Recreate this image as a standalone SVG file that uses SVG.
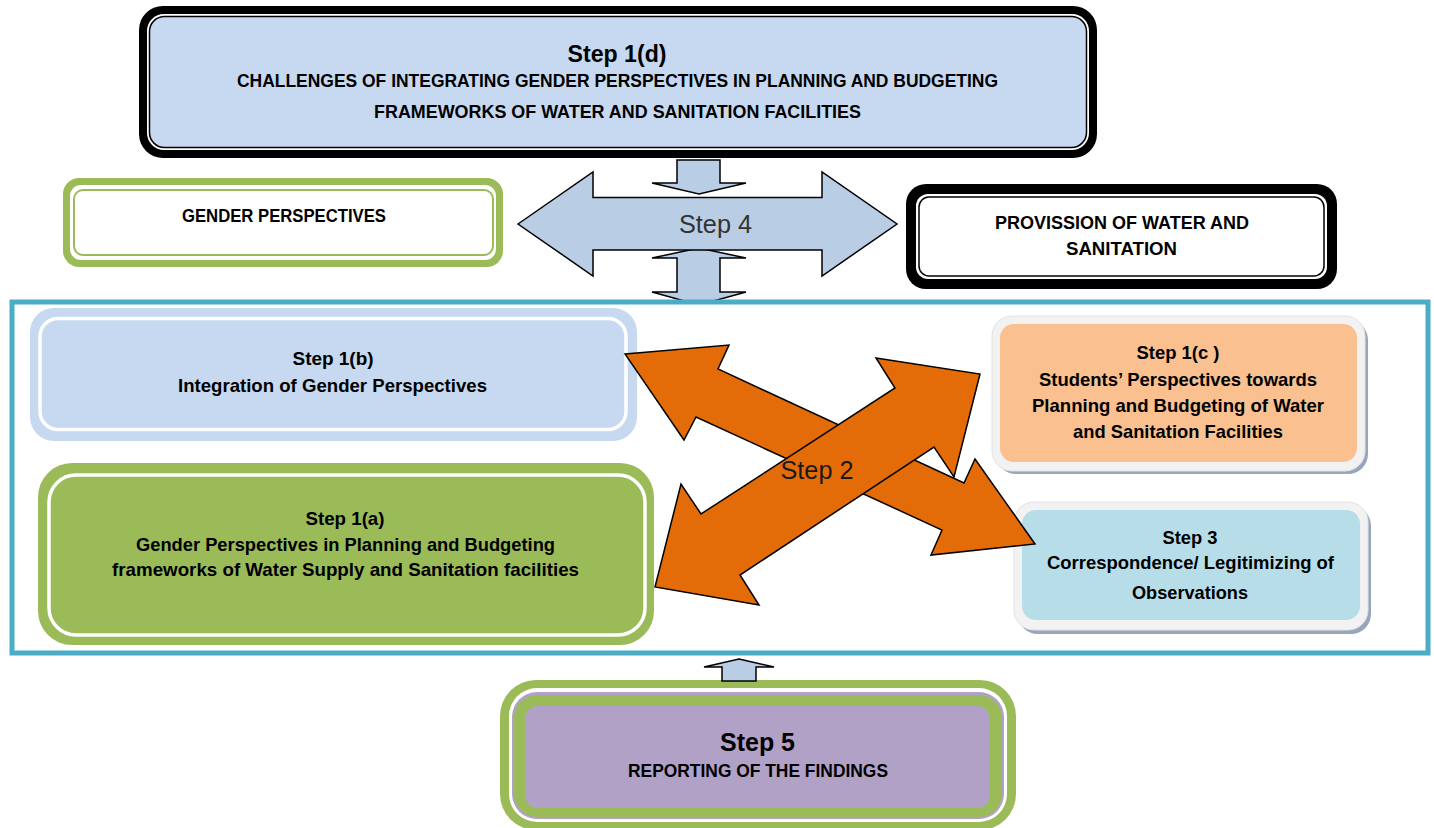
<svg xmlns="http://www.w3.org/2000/svg" width="1434" height="828" viewBox="0 0 1434 828">
<defs>
<style>
.t{font-family:"Liberation Sans",Arial,sans-serif;font-weight:bold;fill:#000;text-anchor:middle}
.s{font-size:18.5px}
.c{font-size:17.5px}
.lbl{font-family:"Liberation Sans",Arial,sans-serif;font-size:25px;text-anchor:middle}
.blue{fill:#B9CDE5;stroke:#000;stroke-width:1.5;stroke-linejoin:miter}
.orange{fill:#E36C09;stroke:#000;stroke-width:1.5;stroke-linejoin:miter}
</style>
<clipPath id="cut"><rect x="0" y="0" width="1434" height="300"/></clipPath>
</defs>
<rect width="1434" height="828" fill="#fff"/>

<g id="step1d">
<rect x="139" y="6" width="958" height="152" rx="24" fill="#000"/>
<rect x="147" y="14" width="942" height="136" rx="17" fill="#fff"/>
<rect x="149.5" y="16.5" width="937" height="131" rx="15" fill="#C6D9F0" stroke="#000" stroke-width="1.5"/>
<text class="t" x="617" y="62" font-size="23" textLength="99" lengthAdjust="spacingAndGlyphs">Step 1(d)</text>
<text class="t c" x="617.5" y="87" textLength="761" lengthAdjust="spacingAndGlyphs">CHALLENGES OF INTEGRATING GENDER PERSPECTIVES IN PLANNING AND BUDGETING</text>
<text class="t c" x="617.5" y="118" textLength="487" lengthAdjust="spacingAndGlyphs">FRAMEWORKS OF WATER AND SANITATION FACILITIES</text>
</g>

<g id="gender">
<rect x="63" y="178" width="440" height="89" rx="16" fill="#9BBB59"/>
<rect x="70" y="185" width="426" height="75" rx="11" fill="#fff"/>
<rect x="74" y="190" width="419" height="65" rx="9" fill="#fff" stroke="#9BBB59" stroke-width="2"/>
<text class="t c" x="284" y="222" textLength="204" lengthAdjust="spacingAndGlyphs">GENDER PERSPECTIVES</text>
</g>

<g id="provision">
<rect x="906" y="184" width="431" height="105" rx="20" fill="#000"/>
<rect x="916" y="194" width="411" height="85" rx="12" fill="#fff"/>
<rect x="919" y="197" width="405" height="79" rx="10" fill="#fff" stroke="#000" stroke-width="1.5"/>
<text class="t c" x="1122" y="229" textLength="254" lengthAdjust="spacingAndGlyphs">PROVISSION OF WATER AND</text>
<text class="t c" x="1121.5" y="255" textLength="111" lengthAdjust="spacingAndGlyphs">SANITATION</text>
</g>

<g id="step1b">
<rect x="30" y="308" width="607" height="133" rx="24" fill="#C6D9F0"/>
<rect x="40" y="318.5" width="586" height="111" rx="18" fill="#C6D9F0" stroke="#fff" stroke-width="3.5"/>
<text class="t s" x="333" y="365" textLength="81" lengthAdjust="spacingAndGlyphs">Step 1(b)</text>
<text class="t s" x="332.5" y="392" textLength="309" lengthAdjust="spacingAndGlyphs">Integration of Gender Perspectives</text>
</g>

<g id="step1a">
<rect x="38" y="463" width="616" height="182" rx="34" fill="#9BBB59"/>
<rect x="49" y="475" width="596" height="160" rx="27" fill="#9BBB59" stroke="#fff" stroke-width="3.5"/>
<text class="t s" x="345" y="525" textLength="79" lengthAdjust="spacingAndGlyphs">Step 1(a)</text>
<text class="t s" x="345.5" y="551" textLength="419" lengthAdjust="spacingAndGlyphs">Gender Perspectives in Planning and Budgeting</text>
<text class="t s" x="345.5" y="576" textLength="467" lengthAdjust="spacingAndGlyphs">frameworks of Water Supply and Sanitation facilities</text>
</g>

<g id="step1c">
<rect x="996" y="320" width="372" height="154" rx="20" fill="#97A6BC"/>
<rect x="992" y="316" width="373" height="155" rx="20" fill="#F2F2F2" stroke="#E2E2E2" stroke-width="1"/>
<rect x="1000" y="324" width="357" height="138" rx="14" fill="#FAC090"/>
<text class="t s" x="1178" y="359" textLength="83" lengthAdjust="spacingAndGlyphs">Step 1(c )</text>
<text class="t s" x="1178" y="386" textLength="278" lengthAdjust="spacingAndGlyphs">Students’ Perspectives towards</text>
<text class="t s" x="1178" y="412" textLength="292" lengthAdjust="spacingAndGlyphs">Planning and Budgeting of Water</text>
<text class="t s" x="1178" y="438" textLength="210" lengthAdjust="spacingAndGlyphs">and Sanitation Facilities</text>
</g>

<g id="step3">
<rect x="1018" y="506" width="353" height="128" rx="20" fill="#97A6BC"/>
<rect x="1014" y="502" width="354" height="128" rx="20" fill="#F2F2F2" stroke="#E2E2E2" stroke-width="1"/>
<rect x="1022" y="510" width="338" height="110" rx="14" fill="#B7DEE8"/>
<text class="t s" x="1190" y="544" textLength="55" lengthAdjust="spacingAndGlyphs">Step 3</text>
<text class="t s" x="1190.5" y="569" textLength="287" lengthAdjust="spacingAndGlyphs">Correspondence/ Legitimizing of</text>
<text class="t s" x="1190" y="599" textLength="116" lengthAdjust="spacingAndGlyphs">Observations</text>
</g>

<g id="step5">
<rect x="500" y="680" width="516" height="150" rx="36" fill="#9BBB59"/>
<rect x="509" y="688" width="498" height="134" rx="28" fill="#fff"/>
<rect x="512" y="692" width="492" height="127" rx="25" fill="#B2A1C7"/>
<rect x="514" y="695" width="488" height="122" rx="23" fill="#9BBB59"/>
<rect x="525" y="706" width="465" height="102" rx="13" fill="#B2A1C7"/>
<text class="t" x="757.5" y="751" font-size="25" textLength="75" lengthAdjust="spacingAndGlyphs">Step 5</text>
<text class="t c" x="758" y="777" textLength="260" lengthAdjust="spacingAndGlyphs">REPORTING OF THE FINDINGS</text>
</g>

<g id="connectors">
<polygon class="blue" clip-path="url(#cut)" points="699,248 746,258 720,258 720,292 746,292 699,305 652,292 677,292 677,258 652,258"/>
<polygon class="blue" points="677,160 720,160 720,183 746,183 699,194 652,183 677,183"/>
<polygon class="blue" points="518,224 593,172 593,197.5 822,197.5 822,172 897,224 822,276 822,250 593,250 593,276"/>
<text class="lbl" x="715.5" y="233" fill="#333" textLength="73" lengthAdjust="spacingAndGlyphs">Step 4</text>
<polygon class="blue" points="739,659 774,667 756,667 756,681 722,681 722,667 704,667"/>
<polygon class="orange" points="625,354 729,345 718,369 964,483 975,459 1035,544 931,555 942,530 696,417 684,440"/>
<polygon class="orange" points="655,587 681,484 701,514 895,388 876,358 980,374 954,477 934,447 740,575 759,605"/>
<text class="lbl" x="817" y="479" fill="#1a1a1a" textLength="73" lengthAdjust="spacingAndGlyphs">Step 2</text>
</g>

<rect id="frame" x="12" y="302" width="1416" height="351" fill="none" stroke="#4BACC6" stroke-width="5"/>
</svg>
